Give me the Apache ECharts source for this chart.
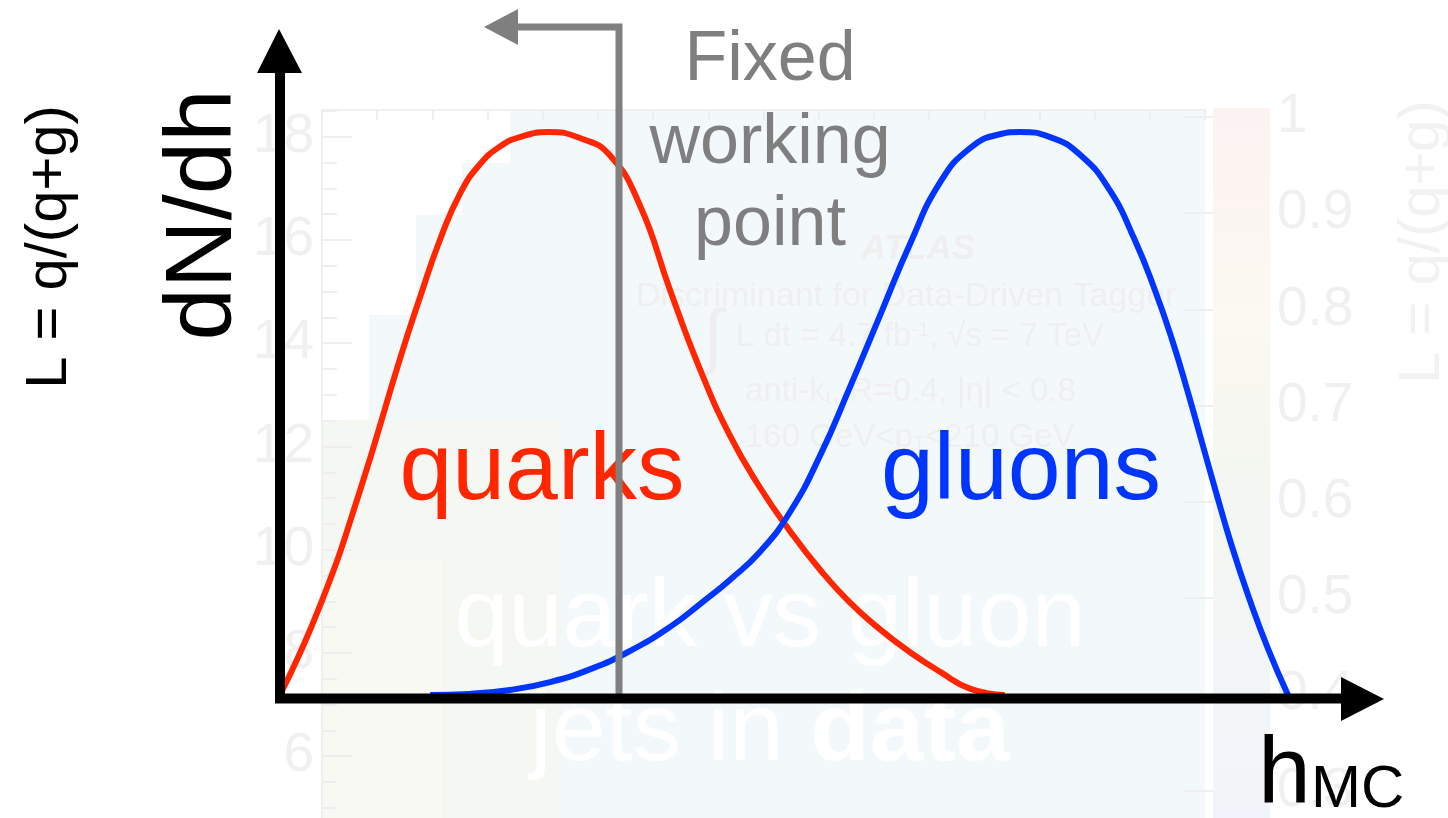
<!DOCTYPE html>
<html>
<head>
<meta charset="utf-8">
<title>Quark / gluon discriminant</title>
<script src="https://cdn.jsdelivr.net/npm/echarts@6/dist/echarts.min.js"></script>
<style>
  html, body { margin: 0; padding: 0; background: #ffffff; }
  #chart { width: 1448px; height: 818px; }
</style>
</head>
<body>
<div id="chart"></div>
<script>
// Schematic discriminant shapes, h_MC on [0, 1], density normalised to peak = 1
const quarkH       = [0, 0.040, 0.079, 0.119, 0.139, 0.159, 0.179, 0.198, 0.218, 0.238, 0.266, 0.298, 0.327, 0.357, 0.387, 0.417, 0.446,
                      0.476, 0.506, 0.536, 0.565, 0.595, 0.625, 0.655, 0.685, 0.719];
const quarkDensity = [0, 0.160, 0.361, 0.597, 0.707, 0.810, 0.892, 0.942, 0.974, 0.991, 1.000, 0.989, 0.959, 0.870, 0.719, 0.577, 0.462,
                      0.369, 0.291, 0.222, 0.165, 0.117, 0.076, 0.041, 0.011, 0];

const gluonH       = [0.149, 0.188, 0.228, 0.268, 0.308, 0.347, 0.387, 0.417, 0.446, 0.476, 0.506, 0.536, 0.565, 0.595, 0.625, 0.655, 0.685, 0.714, 0.734,
                      0.764, 0.794, 0.823, 0.848, 0.868, 0.885, 0.900, 0.914, 0.928, 0.944, 0.962, 0.980, 1.000];
const gluonDensity = [0, 0.002, 0.009, 0.023, 0.046, 0.078, 0.121, 0.162, 0.204, 0.254, 0.325, 0.426, 0.545, 0.673, 0.801, 0.911, 0.972, 0.996, 1.000,
                      0.991, 0.959, 0.897, 0.808, 0.719, 0.631, 0.542, 0.453, 0.364, 0.266, 0.169, 0.083, 0];

// Faded backdrop: ATLAS tagger plot axis and colour-scale labels
const backdropTicks = [6, 8, 10, 12, 14, 16, 18];
const backdropMinorTicks = [5, 5.5, 6.5, 7, 7.5, 8.5, 9, 9.5, 10.5, 11, 11.5, 12.5, 13, 13.5, 14.5, 15, 15.5, 16.5, 17, 17.5, 18.5];
const colourScaleTicks = [0.3, 0.4, 0.5, 0.6, 0.7, 0.8, 0.9, 1];

const FONT = "'Liberation Sans', Arial, Helvetica, sans-serif";
const RED = '#ff2600';
const BLUE = '#0035ff';
const GREY = '#7f7f7f';
const FAINT = '#efefef';

const chart = echarts.init(document.getElementById('chart'), null, { renderer: 'canvas' });

function txt(x, y, text, size, fill, extra) {
  extra = extra || {};
  const style = Object.assign({
    text: text, fontSize: size, fontFamily: FONT, fill: fill,
    align: 'center', verticalAlign: 'middle'
  }, extra.style || {});
  const el = Object.assign({ type: 'text', x: x, y: y }, extra);
  el.style = style;
  return el;
}

const graphics = [
  // backdrop histogram area
  { type: 'rect', z: -5, shape: { x: 322, y: 110, width: 883, height: 708 }, style: { fill: '#f3f8fb' } },
  { type: 'rect', z: -4, shape: { x: 322, y: 420, width: 240, height: 398 }, style: { fill: '#f5f7f2' } },
  { type: 'rect', z: -4, shape: { x: 322, y: 560, width: 120, height: 258 }, style: { fill: '#f8f9f2' } },
  { type: 'polygon', z: -3, shape: { points: [[322,110],[510,110],[510,163],[462,163],[462,215],[416,215],[416,315],[369,315],[369,420],[322,420]] }, style: { fill: '#ffffff' } },
  // colour scale
  { type: 'rect', z: -5, shape: { x: 1213, y: 108, width: 57, height: 710 },
    style: { fill: new echarts.graphic.LinearGradient(0, 0, 0, 1, [
      { offset: 0, color: '#fdf2f2' }, { offset: 0.3, color: '#fbf9f1' },
      { offset: 0.55, color: '#f3f6f1' }, { offset: 1, color: '#f1f5fb' }]) } },

  // faded plot annotations
  txt(918, 249, 'ATLAS', 35, FAINT, { z: -2, style: { fontWeight: 'bold', fontStyle: 'italic' } }),
  txt(636, 297, 'Discriminant for Data-Driven Tagger', 34, FAINT, { z: -2, style: { align: 'left' } }),
  txt(713, 340, '\u222B', 72, FAINT, { z: -2 }),
  { type: 'text', z: -2, x: 736, y: 337, style: {
      text: '{a|L dt = 4.7 fb}{s|-1}{a|, \u221As = 7 TeV}', fontFamily: FONT, fill: FAINT,
      align: 'left', verticalAlign: 'middle',
      rich: { a: { fontSize: 33, fontFamily: FONT, fill: FAINT }, s: { fontSize: 20, fontFamily: FONT, fill: FAINT, verticalAlign: 'top' } } } },
  { type: 'text', z: -2, x: 745, y: 392, style: {
      text: '{a|anti-k}{s|t}{a|, R=0.4, |\u03B7| < 0.8}', fontFamily: FONT, fill: FAINT,
      align: 'left', verticalAlign: 'middle',
      rich: { a: { fontSize: 33, fontFamily: FONT, fill: FAINT }, s: { fontSize: 20, fontFamily: FONT, fill: FAINT, verticalAlign: 'bottom' } } } },
  { type: 'text', z: -2, x: 745, y: 438, style: {
      text: '{a|160 GeV<p}{s|T}{a|<210 GeV}', fontFamily: FONT, fill: FAINT,
      align: 'left', verticalAlign: 'middle',
      rich: { a: { fontSize: 33, fontFamily: FONT, fill: FAINT }, s: { fontSize: 20, fontFamily: FONT, fill: FAINT, verticalAlign: 'bottom' } } } },
  txt(1423, 242, 'L = q/(q+g)', 58, '#f2f2f2', { z: -2, rotation: Math.PI / 2 }),

  // headline of the faded plot
  txt(770, 619, 'quark vs gluon', 97, '#ffffff', { z: -1 }),
  { type: 'text', z: -1, x: 770, y: 733, style: {
      text: '{n|jets in }{b|data}', fontFamily: FONT, fill: '#ffffff',
      align: 'center', verticalAlign: 'middle',
      rich: { n: { fontSize: 97, fontFamily: FONT, fill: '#ffffff' },
              b: { fontSize: 97, fontFamily: FONT, fill: '#ffffff', fontWeight: 'bold' } } } },

  // curve labels
  txt(542, 473, 'quarks', 95, RED, { z: 8 }),
  txt(1021, 473, 'gluons', 95, BLUE, { z: 8 }),

  // working point marker
  txt(770, 61, 'Fixed', 70, GREY, { z: 8 }),
  txt(770, 144, 'working', 70, GREY, { z: 8 }),
  txt(770, 226, 'point', 70, GREY, { z: 8 }),
  { type: 'polyline', z: 20, shape: { points: [[619, 697], [619, 27], [512, 27]] },
    style: { stroke: GREY, lineWidth: 7, fill: null, lineJoin: 'miter' } },
  { type: 'polygon', z: 20, shape: { points: [[484, 27], [518, 9], [518, 45]] }, style: { fill: GREY } },

  // main axes with arrow heads
  { type: 'line', z: 30, shape: { x1: 280, y1: 703, x2: 280, y2: 70 }, style: { stroke: '#000', lineWidth: 10 } },
  { type: 'polygon', z: 30, shape: { points: [[279, 29], [257, 73], [302, 73]] }, style: { fill: '#000' } },
  { type: 'line', z: 30, shape: { x1: 275, y1: 698.5, x2: 1345, y2: 698.5 }, style: { stroke: '#000', lineWidth: 10 } },
  { type: 'polygon', z: 30, shape: { points: [[1384, 699], [1341, 677], [1341, 721]] }, style: { fill: '#000' } },

  // axis titles
  txt(205, 215, 'dN/dh', 94, '#000', { z: 30, rotation: Math.PI / 2 }),
  txt(50, 247, 'L = q/(q+g)', 58, '#000', { z: 30, rotation: Math.PI / 2 }),
  txt(1258, 777, 'h', 95, '#000', { z: 30, style: { align: 'left' } }),
  txt(1311, 790, 'MC', 60, '#000', { z: 30, style: { align: 'left' } })
];

const option = {
  animation: false,
  backgroundColor: '#ffffff',
  grid: [
    { left: 280, right: 160, top: 132, bottom: 123 },
    { left: 322, right: 243, top: 110, bottom: 0 },
    { left: 1213, right: 178, top: 108, bottom: 0 }
  ],
  xAxis: [
    { gridIndex: 0, type: 'value', min: 0, max: 1, show: false },
    { gridIndex: 1, type: 'value', min: 0, max: 16, interval: 1, position: 'top', z: 0,
      axisLine: { show: true, lineStyle: { color: '#f0f0f0', width: 2 } },
      axisTick: { show: true, inside: true, length: 10, lineStyle: { color: '#eeeeee', width: 2 } },
      axisLabel: { show: false }, splitLine: { show: false } },
    { gridIndex: 2, type: 'value', min: 0, max: 1, show: false }
  ],
  yAxis: [
    { gridIndex: 0, type: 'value', min: 0, max: 1, show: false },
    { gridIndex: 1, type: 'value', min: 4.8, max: 18.52, position: 'left', z: 0,
      axisLine: { show: true, lineStyle: { color: '#f0f0f0', width: 2 } },
      axisTick: { show: true, inside: true, length: 30, customValues: backdropTicks, lineStyle: { color: '#eeeeee', width: 2 } },
      axisLabel: { show: true, customValues: backdropTicks, color: '#f0f0f0', fontSize: 55, fontFamily: FONT, margin: 8 },
      splitLine: { show: false } },
    { gridIndex: 1, type: 'value', min: 4.8, max: 18.52, position: 'left', z: 0,
      axisLine: { show: false },
      axisTick: { show: true, inside: true, length: 15, customValues: backdropMinorTicks, lineStyle: { color: '#eeeeee', width: 2 } },
      axisLabel: { show: false }, splitLine: { show: false } },
    { gridIndex: 2, type: 'value', min: 0.2763, max: 1.0093, position: 'right', z: 0,
      axisLine: { show: false },
      axisTick: { show: true, inside: true, length: 30, customValues: colourScaleTicks, lineStyle: { color: '#efefef', width: 2 } },
      axisLabel: { show: true, customValues: colourScaleTicks, color: '#f0f0f0', fontSize: 55, fontFamily: FONT, margin: 7,
        formatter: v => String(Math.round(v * 10) / 10) },
      splitLine: { show: false } }
  ],
  series: [
    { name: 'quarks', type: 'line', xAxisIndex: 0, yAxisIndex: 0, z: 5,
      data: quarkH.map((h, i) => [h, quarkDensity[i]]),
      smooth: 0.5, symbol: 'none', clip: false,
      lineStyle: { color: RED, width: 6 } },
    { name: 'gluons', type: 'line', xAxisIndex: 0, yAxisIndex: 0, z: 5,
      data: gluonH.map((h, i) => [h, gluonDensity[i]]),
      smooth: 0.5, symbol: 'none', clip: false,
      lineStyle: { color: BLUE, width: 6 } }
  ],
  graphic: graphics
};

chart.setOption(option);
</script>
</body>
</html>
